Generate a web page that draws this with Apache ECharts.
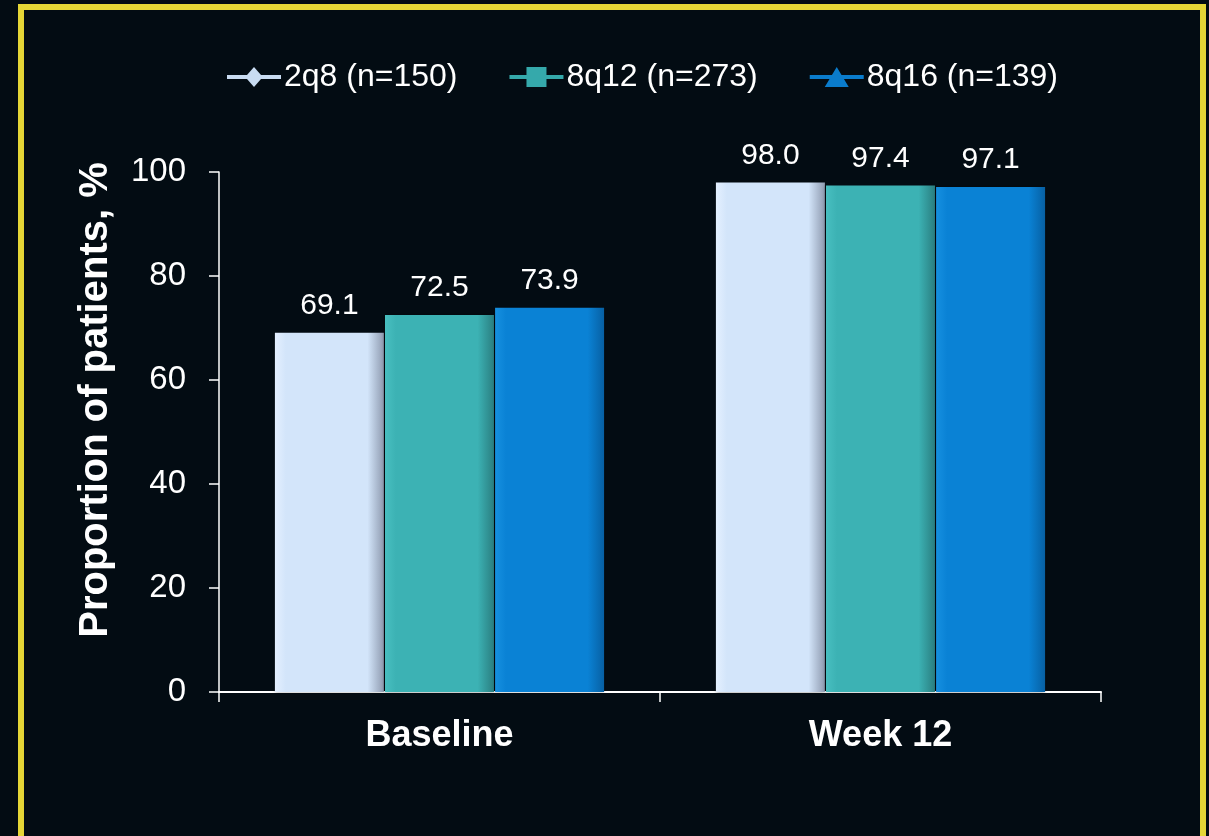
<!DOCTYPE html>
<html>
<head>
<meta charset="utf-8">
<script src="https://cdn.jsdelivr.net/npm/echarts@6/dist/echarts.min.js"></script>
<style>
html,body{margin:0;padding:0;background:#030c13;}
#chart{width:1209px;height:836px;}
</style>
</head>
<body>
<div id="chart"></div>
<script>
const categories = ['Baseline', 'Week 12'];
const seriesNames = ['2q8 (n=150)', '8q12 (n=273)', '8q16 (n=139)'];
const values2q8 = [69.1, 98.0];
const values8q12 = [72.5, 97.4];
const values8q16 = [73.9, 97.1];
const yTicks = [0, 20, 40, 60, 80, 100];

const FONT = '"Liberation Sans", Arial, sans-serif';

function grad(light, main, dark) {
  return new echarts.graphic.LinearGradient(0, 0, 1, 0, [
    {offset: 0, color: light},
    {offset: 0.1, color: main},
    {offset: 0.85, color: main},
    {offset: 1, color: dark}
  ]);
}

const styles = [
  {fill: grad('#e4f0ff', '#d3e5fa', '#8f9bb0'), icon: '#c9dcf2',
   path: 'path://M0,8H20L27,0L34,8H54V12H34L27,20L20,12H0Z'},
  {fill: grad('#48bfc0', '#3cb2b4', '#2a7e80'), icon: '#35a9ab',
   path: 'path://M0,8H17V0H37V8H54V12H37V20H17V12H0Z'},
  {fill: grad('#1690e0', '#0a82d5', '#0760a3'), icon: '#0a7ccc',
   path: 'path://M0,8H22.2L27,0L31.8,8H54V12H34.2L39,20H15L19.8,12H0Z'}
];
const allValues = [values2q8, values8q12, values8q16];

const chart = echarts.init(document.getElementById('chart'), null, {renderer: 'canvas'});

const series = allValues.map((vals, i) => ({
  name: seriesNames[i],
  type: 'bar',
  data: vals,
  barWidth: 109,
  barGap: '1%',
  itemStyle: {color: styles[i].fill, shadowColor: 'rgba(0,0,0,0.5)', shadowBlur: 3},
  label: {
    show: true,
    position: 'top',
    distance: 12,
    color: '#ffffff',
    fontFamily: FONT,
    fontSize: 30,
    formatter: p => p.value.toFixed(1)
  }
}));

chart.setOption({
  backgroundColor: '#030c13',
  animation: false,
  textStyle: {fontFamily: FONT},
  graphic: [{
    type: 'rect',
    shape: {x: 21, y: 7, width: 1182, height: 860},
    style: {fill: 'none', stroke: '#e5d636', lineWidth: 6},
    silent: true,
    z: 100
  }],
  legend: {
    top: 56,
    left: 222,
    itemWidth: 54,
    itemHeight: 20,
    itemGap: 52,
    textStyle: {color: '#ffffff', fontSize: 32, fontFamily: FONT, padding: [0, 0, 0, -2]},
    data: seriesNames.map((n, i) => ({name: n, icon: styles[i].path, itemStyle: {color: styles[i].icon}}))
  },
  grid: {left: 219, right: 108, top: 172, bottom: 144, containLabel: false},
  xAxis: {
    type: 'category',
    data: categories,
    axisLine: {lineStyle: {color: '#ffffff', width: 2}},
    axisTick: {show: true, length: 10, lineStyle: {color: '#ffffff', width: 1.5}},
    axisLabel: {color: '#ffffff', fontSize: 36, fontWeight: 'bold', fontFamily: FONT, margin: 26},
    splitLine: {show: false}
  },
  yAxis: {
    type: 'value',
    min: yTicks[0],
    max: yTicks[yTicks.length - 1],
    interval: 20,
    name: 'Proportion of patients, %',
    nameLocation: 'middle',
    nameGap: 103,
    nameTextStyle: {color: '#ffffff', fontSize: 40, fontWeight: 'bold', fontFamily: FONT, padding: [0, 0, 0, 64]},
    axisLine: {show: true, lineStyle: {color: '#ffffff', width: 1.5}},
    axisTick: {show: true, length: 10, lineStyle: {color: '#ffffff', width: 1.5}},
    axisLabel: {color: '#ffffff', fontSize: 33, fontFamily: FONT, margin: 33},
    splitLine: {show: false}
  },
  series: series
});
</script>
</body>
</html>
